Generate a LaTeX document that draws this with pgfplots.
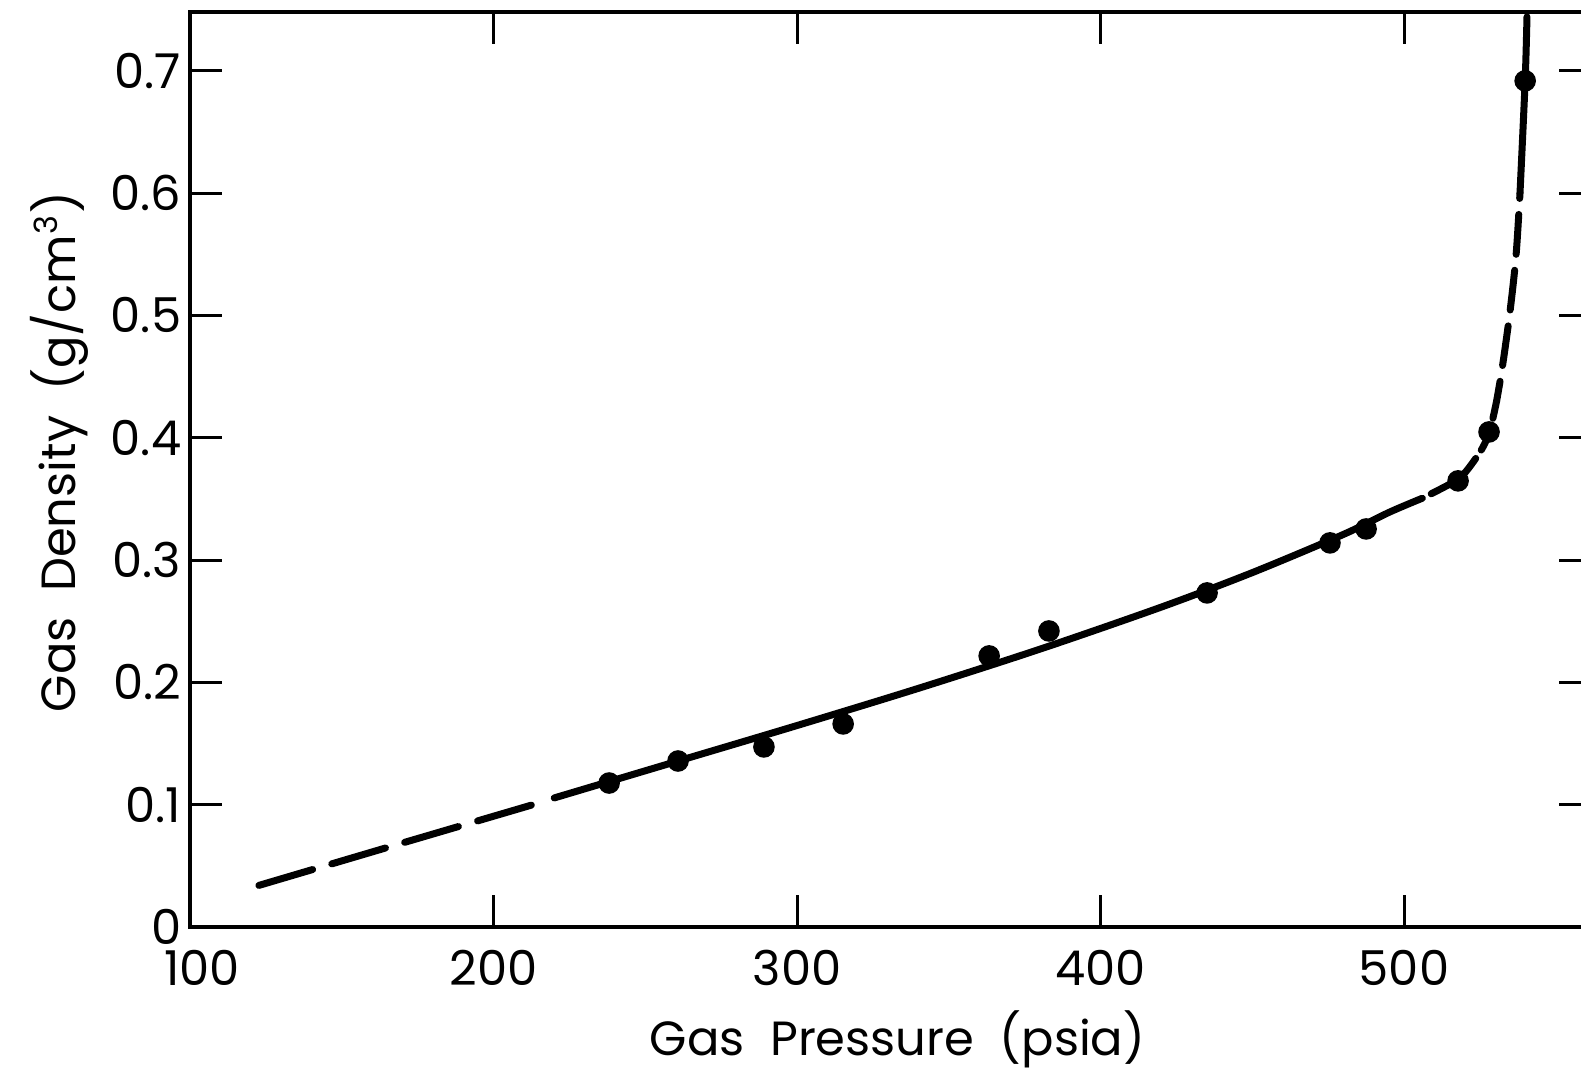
\documentclass[border=0pt]{standalone}
\usepackage{pgfplots}
\pgfplotsset{compat=1.18}
\usepackage{fontspec}
\setmainfont{Poppins}

% measured points
\pgfplotstableread{
x y
238.1 0.1177
260.8 0.1357
289.1 0.1472
315.2 0.1660
363.3 0.2216
383.0 0.2420
435.1 0.2731
475.6 0.3140
487.5 0.3254
517.8 0.3647
528.0 0.4047
539.9 0.6917
}\measured

\begin{document}
\begin{tikzpicture}
\begin{axis}[
  at={(0,0)}, anchor=south west,
  scale only axis,
  width=350.25pt, height=228.75pt,
  xmin=100, xmax=561.6, ymin=0, ymax=0.748,
  xtick={100,200,300,400,500},
  xticklabels={\hspace*{6pt}100,200,300,400,500},
  ytick={0,0.1,0.2,0.3,0.4,0.5,0.6,0.7},
  tick align=inside,
  major tick length=8pt,
  every tick/.style={black, line width=0.75pt},
  axis line style={line width=1pt},
  /pgf/number format/assume math mode=true,
  yticklabel style={/pgf/number format/fixed, /pgf/number format/precision=1,
    font=\fontsize{12}{14}\selectfont, inner sep=1pt, xshift=-1pt},
  xticklabel style={font=\fontsize{12}{14}\selectfont, inner sep=1pt, yshift=-4.5pt},
  xlabel={Gas\ \ Pressure\ \ (psia)},
  ylabel={Gas\ \ Density\ \ (g/cm\textsuperscript{3})},
  label style={font=\fontsize{12}{14}\selectfont},
  xlabel style={at={(axis description cs:0.505,-0.14)}, anchor=base},
  ylabel style={at={(axis description cs:-0.082,0.519)}, anchor=base},
  clip=false,
]
  % extrapolated low end
  \addplot[black, line width=1.75pt, line cap=round, dash pattern=on 14pt off 5pt]
    coordinates {(122.7,0.034) (167.7,0.067) (212.7,0.0998)};
  % fitted curve, solid part
  \addplot[black, line width=1.75pt, smooth, line cap=round] coordinates {
    (220,0.1055) (260,0.1351) (300,0.1647) (340,0.1951) (380,0.2271)
    (420,0.2615) (450,0.2897) (480,0.3209) (495,0.3389) (506,0.3505)};
  % dashed part near the knee
  \addplot[black, line width=1.75pt, smooth, line cap=round,
    dash pattern=on 6pt off 2.5pt, dash phase=6pt]
    coordinates {(506,0.3505) (512,0.358) (517.8,0.366) (521.1,0.3745)
    (525.7,0.391) (528.3,0.406) (530.5,0.430)};
  \addplot[black, line width=1.75pt, smooth, line cap=round,
    dash pattern=on 10pt off 4pt, dash phase=5pt]
    coordinates {(530.5,0.430) (532.4,0.458) (534.9,0.503) (536.9,0.549)
    (538.2,0.600)};
  % solid top
  \addplot[black, line width=1.75pt, smooth, line cap=round]
    coordinates {(538.2,0.600) (539.9,0.692) (540.5,0.744)};
  \addplot[only marks, mark=*, mark size=2.5pt, black] table {\measured};
\end{axis}
\pgfresetboundingbox
\useasboundingbox (-47.5pt,-35.5pt) rectangle (347.75pt,231.75pt);
\end{tikzpicture}
\end{document}
